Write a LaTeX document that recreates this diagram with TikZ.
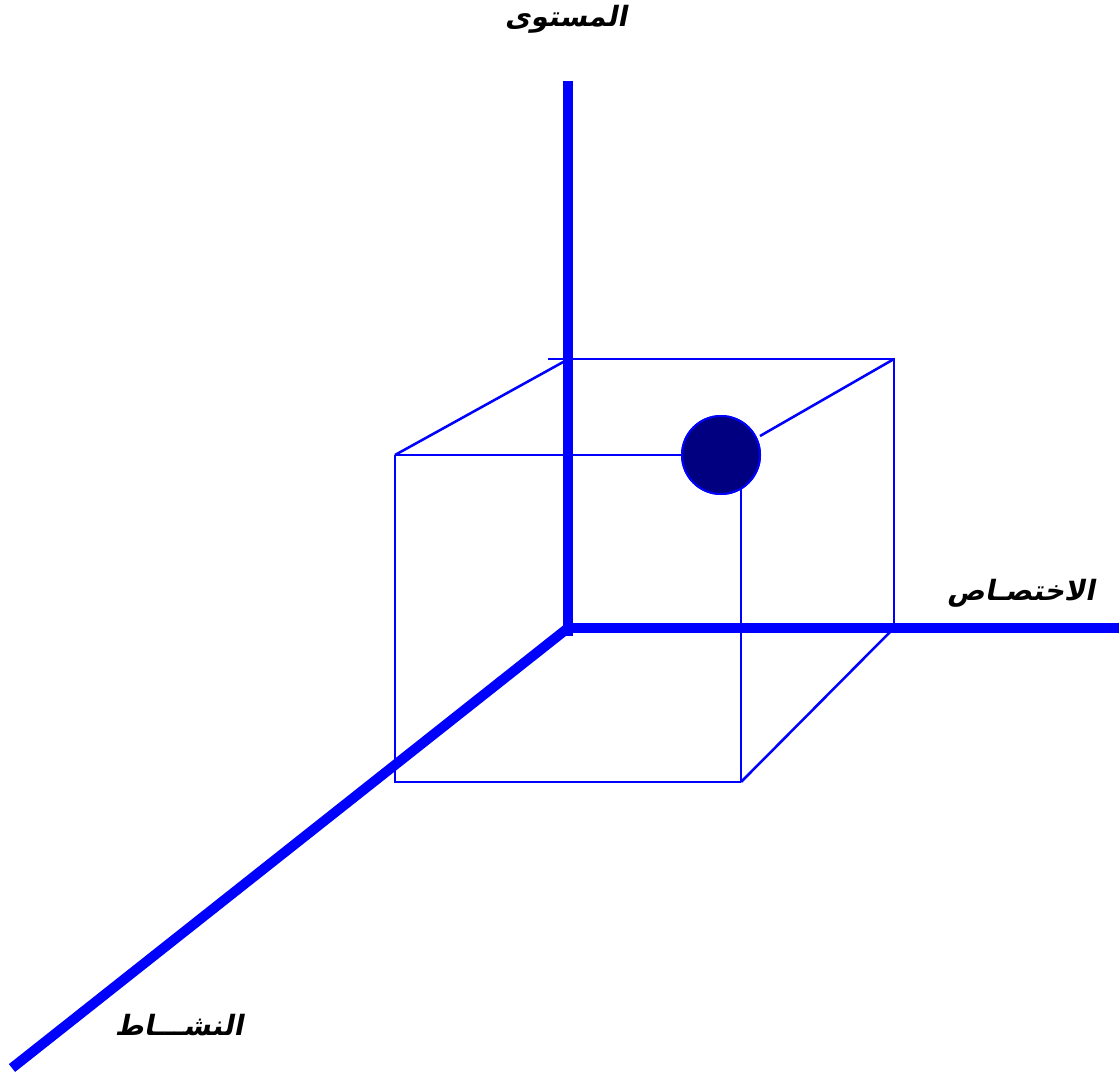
\documentclass[tikz,border=0pt]{standalone}
\usepackage{fontspec}
\TeXXeTstate=1
\newfontfamily\arabicfont[Script=Arabic,FakeSlant=0.2,BoldFont={DejaVu Sans Bold},BoldFeatures={FakeSlant=0.2}]{DejaVu Sans}
\definecolor{axisblue}{RGB}{0,0,255}
\definecolor{dotnavy}{RGB}{0,0,128}
\begin{document}
\begin{tikzpicture}[x=0.75pt,y=-0.75pt,
  axis/.style={draw=axisblue,line width=7.5pt},
  edge/.style={draw=axisblue,line width=1.9pt},
  dotstyle/.style={circle,minimum size=58.5pt,inner sep=0pt,fill=dotnavy,draw=axisblue,line width=1.5pt},
  lbl/.style={font=\arabicfont\bfseries\fontsize{21}{25}\selectfont,text=black,inner sep=0pt}]
\useasboundingbox (0,0) rectangle (1119,1074);
% cube corners
\coordinate (FTL) at (395,455);
\coordinate (FBL) at (395,782);
\coordinate (FBR) at (741,782);
\coordinate (FRT) at (741,488);
\coordinate (BTL) at (565,361);
\coordinate (BTLx) at (548,359);
\coordinate (BTR) at (894,359);
\coordinate (BBR) at (891,631);
\coordinate (BRB) at (894,628);
\coordinate (DNE) at (760,436);
\node[dotstyle] (dot) at (721,455) {};
% cube edges
\draw[edge] (FTL) -- (dot.west);
\draw[edge] (FTL) -- (FBL) -- (FBR);
\draw[edge] (FBR) -- (FRT);
\draw[edge] (FTL) -- (BTL);
\draw[edge] (BTLx) -- (BTR) -- (BRB);
\draw[edge] (BTR) -- (DNE);
\draw[edge] (FBR) -- (BBR);
% axes
\coordinate (O) at (568,628);
\coordinate (Otop) at (568,81);
\coordinate (Obot) at (568,636);
\coordinate (Xend) at (1119,628);
\coordinate (Zend) at (12,1068);
\draw[axis] (Otop) -- (Obot);
\draw[axis] (O) -- (Xend);
\draw[axis] (O) -- (Zend);
\node[dotstyle] at (dot) {};
% labels
\node[lbl] (lv) at (566,19) {\beginR المستوى\endR};
\node[lbl] (lx) at (1021,593) {\beginR الاختصـاص\endR};
\node[lbl] (lz) at (179,1025) {\beginR النشـــاط\endR};
\end{tikzpicture}
\end{document}
